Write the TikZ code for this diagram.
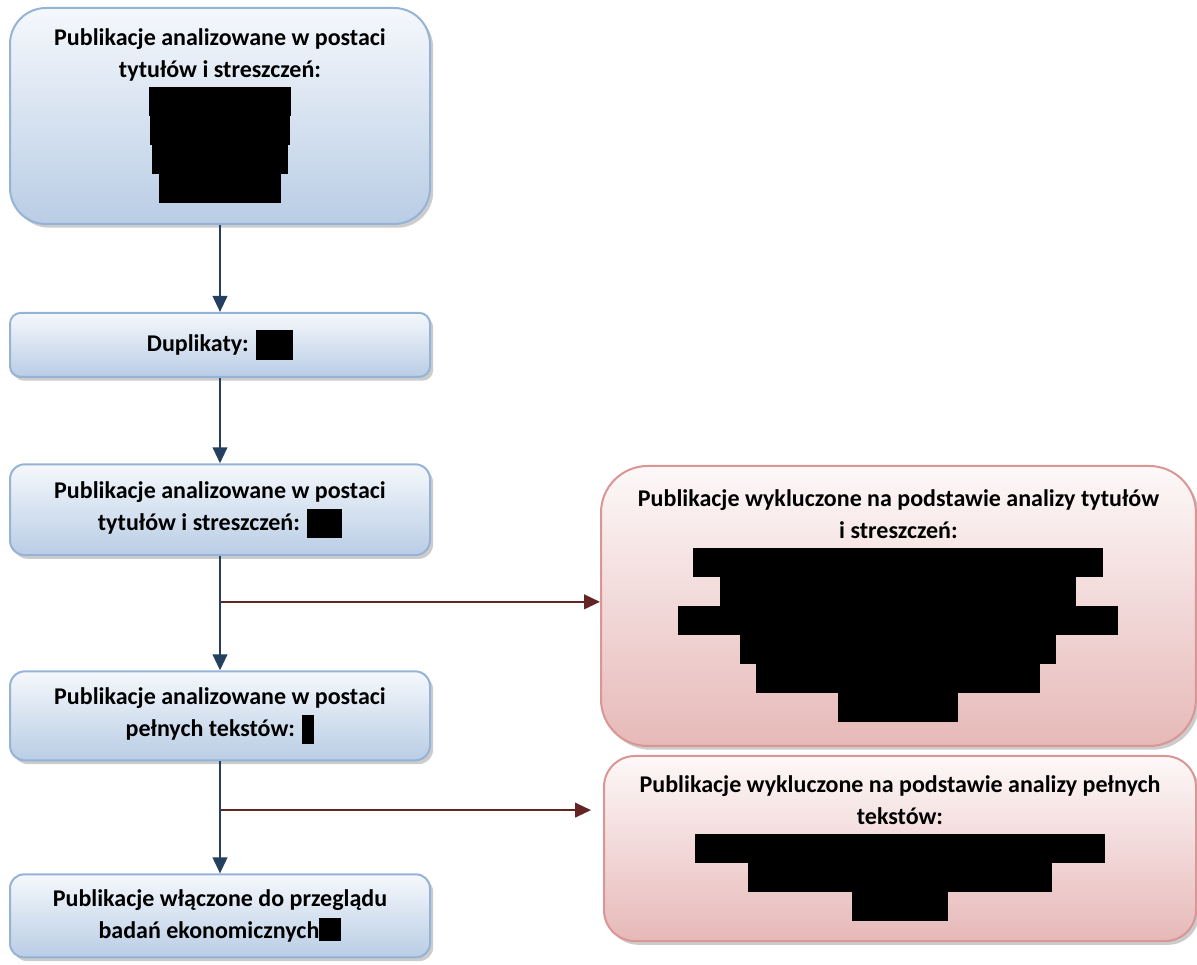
\documentclass[tikz,border=0pt]{standalone}
\usepackage{fontspec}
\setmainfont{Carlito}
\usetikzlibrary{positioning, arrows.meta, shadows, calc}

\definecolor{boxblue}{HTML}{95B3D7}
\definecolor{blueTop}{HTML}{F5F8FC}
\definecolor{blueBot}{HTML}{B9CDE5}
\definecolor{boxred}{HTML}{D99694}
\definecolor{redTop}{HTML}{FDF8F8}
\definecolor{redBot}{HTML}{E6B9B8}
\definecolor{arrowblue}{HTML}{243F60}
\definecolor{arrowred}{HTML}{632523}

% czarne pola (zamazane liczby)
\newcommand{\redact}[2][10.9pt]{\rule[-3pt]{#2}{#1}}

\begin{document}
\begin{tikzpicture}[x=0.375pt, y=-0.375pt, >={Triangle[length=6pt,width=5.5pt]}, line width=0.75pt,
        font=\bfseries\fontsize{9pt}{10.9pt}\selectfont]
        % --- STYLE ---
        \tikzset{
            bluebox/.style={draw=boxblue, rounded corners=#1, top color=blueTop, bottom color=blueBot,
                minimum width=157.5pt, align=center, inner sep=0pt,
                drop shadow={shadow xshift=1.2pt, shadow yshift=-1.4pt, fill=black!40}},
            bluebox/.default=5pt,
            redbox/.style={draw=boxred, rounded corners=#1, top color=redTop, bottom color=redBot,
                align=center, inner sep=0pt,
                drop shadow={shadow xshift=1.2pt, shadow yshift=-1.4pt, fill=black!40}},
            redbox/.default=12pt,
            flow/.style={->, draw=arrowblue, fill=arrowblue},
            branch/.style={->, draw=arrowred, fill=arrowred}
        }
        \useasboundingbox (0,0) rectangle (1197,965);

        % --- KOLUMNA GLOWNA ---
        \node [bluebox=13.5pt, minimum height=81pt] (pub_ts) at (220,116)
            {Publikacje analizowane w postaci\\[1.1pt]tytułów i streszczeń:\\[0.5pt]\redact{52.9pt}\\\redact{52.5pt}\\\redact{51pt}\\\redact{45.4pt}};
        \node [bluebox=4pt, minimum height=24pt, below=32.6pt of pub_ts] (dup)
            {Duplikaty: \redact[11.25pt]{13.9pt}};
        \node [bluebox=5.6pt, minimum height=34.1pt, below=32pt of dup] (pub_ts2)
            {Publikacje analizowane w postaci\\[1.1pt]tytułów i streszczeń: \redact{13.1pt}};
        \node [bluebox=5.6pt, minimum height=33.4pt, below=42.8pt of pub_ts2] (pub_full)
            {Publikacje analizowane w postaci\\[1.1pt]pełnych tekstów: \redact{4.5pt}};
        \node [bluebox=5.2pt, minimum height=31.1pt, below=42pt of pub_full] (incl)
            {Publikacje włączone do przeglądu\\[1.1pt]badań ekonomicznych\rule[-1pt]{8.3pt}{8.5pt}};

        % --- WYKLUCZONE ---
        \node [redbox=17.5pt, minimum width=223.1pt, minimum height=105pt, anchor=north west] (excl_ts) at (600,465)
            {Publikacje wykluczone na podstawie analizy tytułów\\[1.1pt]i streszczeń:\\[0.5pt]\redact{153.75pt}\\\redact{133.5pt}\\\redact{165pt}\\\redact{118.5pt}\\\redact{106.5pt}\\\redact{45pt}};
        \node [redbox=11.6pt, minimum width=222pt, minimum height=69.4pt, anchor=north west] (excl_full) at (603,755)
            {Publikacje wykluczone na podstawie analizy pełnych\\[1.1pt]tekstów:\\[0.5pt]\redact{153.75pt}\\\redact{114pt}\\\redact{36pt}};

        % --- ODGALEZIENIA ---
        \coordinate (split_ts) at ($(pub_ts2.south)!0.4!(pub_full.north)$);
        \coordinate (split_full) at ($(pub_full.south)!0.435!(incl.north)$);
        \draw [branch] (split_ts) -- (split_ts -| excl_ts.west);
        \draw [branch, shorten >=4.5pt] (split_full) -- (split_full -| excl_full.west);

        % --- POLACZENIA ---
        \draw [flow] (pub_ts) -- (dup);
        \draw [flow] (dup) -- (pub_ts2);
        \draw [flow] (pub_ts2) -- (pub_full);
        \draw [flow] (pub_full) -- (incl);

\end{tikzpicture}
\end{document}
